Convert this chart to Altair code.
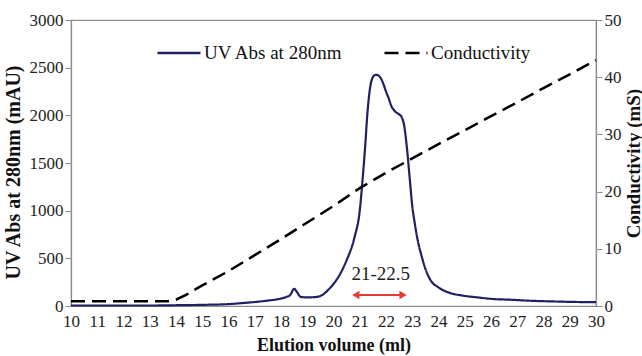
import altair as alt
import pandas as pd

FONT = "Liberation Serif, Times New Roman, Times, DejaVu Serif, serif"

series = ["UV Abs at 280nm", "Conductivity"]

uv_x = [10, 11, 12, 13, 14, 15, 16, 16.5, 17, 17.5, 17.9, 18.2, 18.35, 18.5, 18.6, 18.75,
        19.0, 19.35, 19.6, 19.8, 20.1, 20.3, 20.5, 20.8, 21.0, 21.1, 21.2, 21.3, 21.4,
        21.5, 21.6, 21.7, 21.8, 21.9, 22.0, 22.1, 22.2, 22.35, 22.5, 22.6, 22.7, 22.8,
        22.9, 23.0, 23.1, 23.2, 23.35, 23.5, 23.7, 24.0, 24.4, 24.9, 25.5, 26.0, 26.8,
        27.5, 28.5, 29.3, 30]
uv_y = [5, 5, 5, 5, 8, 12, 20, 30, 42, 57, 72, 95, 115, 180, 150, 95,
        90, 95, 120, 170, 268, 360, 480, 720, 1000, 1300, 1650, 2050, 2300,
        2400, 2425, 2420, 2390, 2330, 2250, 2180, 2100, 2040, 2010, 1980, 1880, 1650,
        1350, 1050, 860, 700, 530, 390, 270, 195, 140, 110, 90, 75, 65,
        55, 47, 42, 40]

cond_x = [10, 13.7, 14.0, 14.4, 15, 16, 17, 18, 19, 20, 21, 22, 23, 24, 25, 26, 27, 28, 29, 30]
cond_y = [0.85, 0.85, 1.1, 2.0, 3.6, 6.1, 8.9, 11.7, 14.6, 17.5, 20.6, 23.3, 25.8, 28.3,
          30.7, 33.2, 35.6, 38.1, 40.5, 43.0]

x_ticks = list(range(10, 31))
uv_ticks = [0, 500, 1000, 1500, 2000, 2500, 3000]
cond_ticks = [0, 10, 20, 30, 40, 50]

arrow_x = [20.85, 22.65]
arrow_level = [115]
note_text = ["21-22.5"]
note_x = [21.8]
note_y = [336]

uv_df = pd.DataFrame({"v": uv_x, "val": uv_y, "series": series[0]})
cond_df = pd.DataFrame({"v": cond_x, "val": cond_y, "series": series[1]})
arrow_df = pd.DataFrame({"v": [arrow_x[0]], "v2": [arrow_x[1]], "val": arrow_level})
head_df = pd.DataFrame({"v": arrow_x, "val": arrow_level * 2,
                        "shape": ["triangle-left", "triangle-right"]})
note_df = pd.DataFrame({"v": note_x, "val": note_y, "t": note_text})

xscale = alt.Scale(domain=[10, 30], nice=False, zero=False)
xaxis = alt.Axis(values=x_ticks, title="Elution volume (ml)", ticks=False, tickSize=0,
                 labelPadding=7, titlePadding=7, format="d", titleFontSize=18,
                 labelOverlap=False, labelFlush=False)
color_scale = alt.Scale(domain=series, range=["#1f2163", "#000000"])
dash_scale = alt.Scale(domain=series, range=[[1, 0], [14, 7]])
legend = alt.Legend(title=None, orient="none", legendX=85, legendY=10, direction="horizontal",
                    symbolType="stroke", symbolSize=1850, symbolStrokeWidth=2.5,
                    labelFont=FONT, labelFontSize=19, labelColor="#111", columnPadding=36,
                    labelOffset=2, padding=0)

uv_scale = alt.Scale(domain=[0, 3000], nice=False)
uv_axis = alt.Axis(values=uv_ticks, orient="left", title="UV Abs at 280nm (mAU)", format="d",
                   tickSize=6, labelPadding=2, titlePadding=6, titleY=152, labelFlush=False)

uv_line = alt.Chart(uv_df).mark_line(strokeWidth=2.2, interpolate="monotone").encode(
    x=alt.X("v:Q", scale=xscale, axis=xaxis),
    y=alt.Y("val:Q", scale=uv_scale, axis=uv_axis),
    color=alt.Color("series:N", scale=color_scale, legend=legend),
    strokeDash=alt.StrokeDash("series:N", scale=dash_scale, legend=legend),
)

arrow_rule = alt.Chart(arrow_df).mark_rule(color="#e63a35", strokeWidth=2).encode(
    x=alt.X("v:Q", scale=xscale, axis=xaxis),
    x2="v2:Q",
    y=alt.Y("val:Q", scale=uv_scale, axis=uv_axis),
)

arrow_heads = alt.Chart(head_df).mark_point(filled=True, color="#e63a35", size=70, opacity=1).encode(
    x=alt.X("v:Q", scale=xscale, axis=xaxis),
    y=alt.Y("val:Q", scale=uv_scale, axis=uv_axis),
    shape=alt.Shape("shape:N", scale=None, legend=None),
    xOffset=alt.XOffset("shape:N", scale=alt.Scale(domain=["triangle-left", "triangle-right"],
                                                    range=[4, -4])),
)

note = alt.Chart(note_df).mark_text(font=FONT, fontSize=19, color="#222", baseline="middle").encode(
    x=alt.X("v:Q", scale=xscale, axis=xaxis),
    y=alt.Y("val:Q", scale=uv_scale, axis=uv_axis),
    text="t:N",
)

cond_line = alt.Chart(cond_df).mark_line(strokeWidth=2.5).encode(
    x=alt.X("v:Q", scale=xscale, axis=xaxis),
    y=alt.Y("val:Q", scale=alt.Scale(domain=[0, 50], nice=False),
            axis=alt.Axis(values=cond_ticks, orient="right", title="Conductivity (mS)",
                          titleAngle=270, titleBaseline="top", tickSize=6, labelPadding=2,
                          titlePadding=3, titleY=143, titleFontSize=19, labelFlush=False)),
    color=alt.Color("series:N", scale=color_scale, legend=legend),
    strokeDash=alt.StrokeDash("series:N", scale=dash_scale, legend=legend),
)

left = alt.layer(uv_line, arrow_rule, arrow_heads, note)

chart = alt.layer(left, cond_line).resolve_scale(y="independent").properties(
    width=525, height=286,
    autosize=alt.AutoSizeParams(type="none"),
    padding={"left": 71, "top": 20, "right": 46, "bottom": 50},
).configure_view(
    stroke="#8c8c8c", strokeWidth=1.2
).configure_axis(
    grid=False, domainColor="#8c8c8c", domainWidth=1.2, tickColor="#8c8c8c",
    labelFont=FONT, labelFontSize=17, labelColor="#222",
    titleFont=FONT, titleFontSize=20, titleFontWeight="bold", titleColor="#111",
)

chart.save("out.html", embed_options={"renderer": "svg", "actions": False})
